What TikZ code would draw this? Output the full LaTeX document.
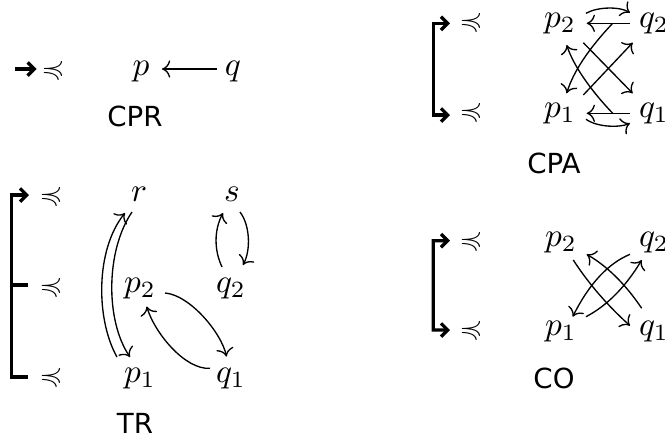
\documentclass[tikz,border=0pt]{standalone}
\usepackage{amssymb}
\usepackage{graphicx}
\usepackage{fontspec}
\newfontfamily\lblfont{DejaVu Sans}
\usetikzlibrary{arrows.meta}
\newcommand{\mypc}{\raisebox{-0.3pt}{\scalebox{0.9}[0.78]{$\preccurlyeq$}}}
\tikzset{
  lbl/.style={font=\lblfont\fontsize{8.3}{10}\selectfont, anchor=base, inner sep=0pt},
  mth/.style={anchor=base, inner sep=0pt},
  arr/.style={->, line width=0.4pt},
  brk/.style={line width=1pt, line join=miter, -{Straight Barb[length=2pt,width=4pt]}},
  brkline/.style={line width=1pt},
  brktwo/.style={line width=1pt, line join=miter, {Straight Barb[length=2pt,width=4pt]}-{Straight Barb[length=2pt,width=4pt]}}
}
\begin{document}
\begin{tikzpicture}[x=0.3pt,y=-0.3pt]
\useasboundingbox (0,0) rectangle (665,441);
% ---------- CPR ----------
\node[mth] (cprL) at (53,75) {\mypc};
\node[mth] (cprp) at (141,75) {$p$};
\node[mth] (cprq) at (233,75) {$q$};
\node[lbl] (cprT) at (135,126) {CPR};
\coordinate (cprS) at (15,69);
\draw[brk] (cprS) -- ([shift={(-16.3,-6)}]cprL.base);
\draw[arr] ([shift={(-16,-6)}]cprq.base) -- ([shift={(21,-6)}]cprp.base);
% ---------- TR ----------
\node[mth] (trL3) at (51,201) {\mypc};
\node[mth] (trL2) at (51,292) {\mypc};
\node[mth] (trL1) at (51,382) {\mypc};
\node[mth] (trr) at (139,201) {$r$};
\node[mth] (trs) at (232,201) {$s$};
\node[mth] (trp2) at (140,292) {$p_2$};
\node[mth] (trq2) at (231,292) {$q_2$};
\node[mth] (trp1) at (140,382) {$p_1$};
\node[mth] (trq1) at (231,382) {$q_1$};
\node[lbl] (trT) at (135,433) {TR};
\coordinate (trTop) at (11.5,195);
\coordinate (trMid) at (11.5,285);
\coordinate (trBot) at (11.5,377);
\draw[brk] ([shift={(-23,-5)}]trL1.base) -- (trBot) -- (trTop) -- ([shift={(-22,-6)}]trL3.base);
\draw[brkline] (trMid) -- ([shift={(-23,-7)}]trL2.base);
\draw[arr] ([shift={(-23,-25)}]trp1.base) .. controls +(-21,-37) and +(-30,37) .. ([shift={(-14,12)}]trr.base);
\draw[arr] ([shift={(-7,11)}]trr.base) .. controls +(-26,38) and +(-25,-37) .. ([shift={(-10,-25)}]trp1.base);
\draw[arr] ([shift={(-9,-25)}]trq2.base) .. controls +(-8,-17) and +(-9,17) .. ([shift={(-9,12)}]trs.base);
\draw[arr] ([shift={(8,11)}]trs.base) .. controls +(10,13) and +(8,-15) .. ([shift={(12,-27)}]trq2.base);
\draw[arr] ([shift={(25,1)}]trp2.base) .. controls +(25,2) and +(-5,-23.6) .. ([shift={(-4.5,-25.5)}]trq1.base);
\draw[arr] ([shift={(-21,-13.7)}]trq1.base) .. controls +(-25,1.7) and +(8,26.5) .. ([shift={(6.7,14.5)}]trp2.base);
% ---------- CPA ----------
\node[mth] (caL2) at (471,27.3) {\mypc};
\node[mth] (caL1) at (471,117.5) {\mypc};
\node[mth] (cap2) at (560,27.3) {$p_2$};
\node[mth] (caq2) at (654,27.3) {$q_2$};
\node[mth] (cap1) at (560,117.5) {$p_1$};
\node[mth] (caq1) at (654,117.5) {$q_1$};
\node[lbl] (caT) at (554,173) {CPA};
\coordinate (caTop) at (433.3,23.3);
\coordinate (caBot) at (433.3,115);
\draw[brktwo] ([shift={(-21,-4)}]caL2.base) -- (caTop) -- (caBot) -- ([shift={(-21,-2.5)}]caL1.base);
\draw[arr] ([shift={(-24,-4)}]caq2.base) -- ([shift={(26.7,-4)}]cap2.base);
\draw[arr] ([shift={(26,-14)}]cap2.base) .. controls +(12,-6.8) and +(-10,-6.2) .. ([shift={(-24,-14.6)}]caq2.base);
\draw[arr] ([shift={(-24,-4.2)}]caq1.base) -- ([shift={(26.7,-4.2)}]cap1.base);
\draw[arr] ([shift={(26,1.8)}]cap1.base) .. controls +(12,8.3) and +(-10,4.3) .. ([shift={(-24,5.8)}]caq1.base);
\draw[arr] ([shift={(-41.3,-4)}]caq2.base) .. controls +(-24.3,25.6) and +(6.4,-21.1) .. ([shift={(6.7,-24.2)}]cap1.base);
\draw[arr] ([shift={(-41.3,-4.2)}]caq1.base) .. controls +(-24.3,-25.6) and +(6.4,19.4) .. ([shift={(6.7,17.7)}]cap2.base);
\draw[arr] ([shift={(23.3,-22.5)}]cap1.base) -- ([shift={(-21.3,15.4)}]caq2.base);
\draw[arr] ([shift={(23.3,15.4)}]cap2.base) -- ([shift={(-21.3,-24.2)}]caq1.base);
% ---------- CO ----------
\node[mth] (coL2) at (471,246.5) {\mypc};
\node[mth] (coL1) at (471,335) {\mypc};
\node[mth] (cop2) at (561,246.5) {$p_2$};
\node[mth] (coq2) at (654,246.5) {$q_2$};
\node[mth] (cop1) at (561,335) {$p_1$};
\node[mth] (coq1) at (654,335) {$q_1$};
\node[lbl] (coT) at (554,388) {CO};
\coordinate (coTop) at (433.3,240.7);
\coordinate (coBot) at (433.3,330);
\draw[brktwo] ([shift={(-21,-5.8)}]coL2.base) -- (coTop) -- (coBot) -- ([shift={(-21,-5)}]coL1.base);
\draw[arr] ([shift={(12.3,13.5)}]cop2.base) .. controls +(15.2,23.5) and +(-22.5,-20.3) .. ([shift={(-24,-9.3)}]coq1.base);
\draw[arr] ([shift={(-12.3,-26.7)}]coq1.base) .. controls +(-16.2,-24.1) and +(20.5,11.9) .. ([shift={(25.7,7.8)}]cop2.base);
\draw[arr] ([shift={(25,-18.3)}]cop1.base) .. controls +(21.2,-11.1) and +(-16,26.7) .. ([shift={(-12.3,13.5)}]coq2.base);
\draw[arr] ([shift={(-24,7.8)}]coq2.base) .. controls +(-22,9.1) and +(16.2,-32.5) .. ([shift={(11.7,-18.3)}]cop1.base);
\end{tikzpicture}
\end{document}
